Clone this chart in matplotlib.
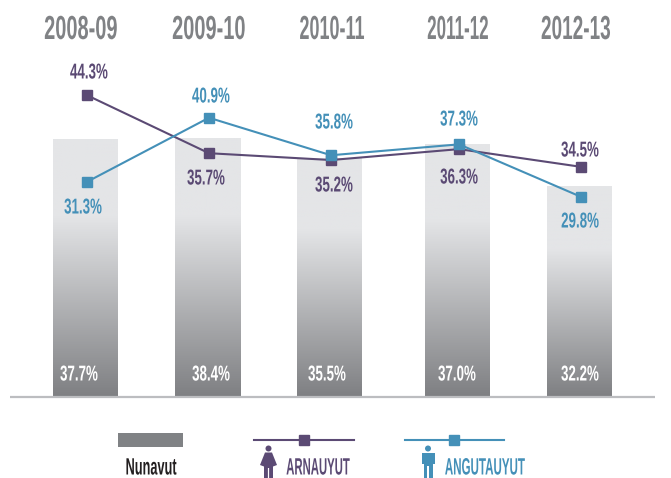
import matplotlib
matplotlib.use("Agg")
import matplotlib.pyplot as plt
import matplotlib.patheffects as pe
from matplotlib.colors import LinearSegmentedColormap
from matplotlib.patches import Circle, Polygon, Rectangle
from matplotlib.transforms import Affine2D
import numpy as np

years = ["2008-09", "2009-10", "2010-11", "2011-12", "2012-13"]

# printed labels
nunavut_labels = ["37.7%", "38.4%", "35.5%", "37.0%", "32.2%"]
arnauyut_labels = ["44.3%", "35.7%", "35.2%", "36.3%", "34.5%"]
angutauyut_labels = ["31.3%", "40.9%", "35.8%", "37.3%", "29.8%"]

# levels as drawn in the picture, these drift a bit from the printed labels
nunavut = [37.6, 37.8, 34.8, 36.9, 30.7]
arnauyut = [44.1, 35.6, 34.6, 36.2, 33.6]
angutauyut = [31.4, 40.8, 35.3, 36.9, 29.2]

# columns are not quite evenly spaced in the original
x_shift = [0.0, 0.0, 0.0, 0.05, 0.05]

GREY = "#808285"
PURPLE = "#5b4a74"
BLUE = "#4490b8"
FONT = "Liberation Sans"

W, H = 671, 478
BASE = 396
PX_PER_UNIT = 6.82
PX_PER_CAT = 122
X0 = 86


class Squeeze(pe.AbstractPathEffect):
    # no condensed font installed, so narrow the glyphs about the text centre
    def __init__(self, sx):
        super().__init__()
        self.sx = sx

    def draw_path(self, renderer, gc, tpath, affine, rgbFace=None):
        xc = tpath.get_extents().x0 / 2 + tpath.get_extents().x1 / 2
        squeeze = Affine2D().translate(-xc, 0).scale(self.sx, 1).translate(xc, 0)
        renderer.draw_path(gc, tpath, squeeze + affine, rgbFace)


def label(ax, x, y, s, color, size=15.5, sx=0.62):
    ax.text(x, y, s, color=color, family=FONT, weight="bold", size=size,
            ha="center", va="center", path_effects=[Squeeze(sx)])


def person(ax, cx, color, female):
    ax.add_patch(Circle((cx, 448.5), 3, color=color, lw=0))
    if female:
        pts = [(cx - 3.5, 452.5), (cx + 3.5, 452.5), (cx + 8.5, 465), (cx + 4.5, 466.5),
               (cx + 4.5, 478), (cx + 0.6, 478), (cx + 0.6, 468), (cx - 0.6, 468),
               (cx - 0.6, 478), (cx - 4.5, 478), (cx - 4.5, 466.5), (cx - 8.5, 465)]
    else:
        pts = [(cx - 6.5, 452.5), (cx + 6.5, 452.5), (cx + 6.5, 464), (cx + 4.5, 464),
               (cx + 4.5, 478), (cx + 0.6, 478), (cx + 0.6, 466), (cx - 0.6, 466),
               (cx - 0.6, 478), (cx - 4.5, 478), (cx - 4.5, 464), (cx - 6.5, 464)]
    ax.add_patch(Polygon(pts, closed=True, color=color, lw=0))


def main():
    fig = plt.figure(figsize=(W / 100, H / 100), dpi=100, facecolor="white")

    # data axes, percent on y and column index on x
    ax = fig.add_axes([0, 0, 1, 1])
    ax.axis("off")
    x = np.arange(len(years)) + np.array(x_shift)
    xlim = (-X0 / PX_PER_CAT, (W - X0) / PX_PER_CAT)
    ylim = (-(H - BASE) / PX_PER_UNIT, BASE / PX_PER_UNIT)

    cmap = LinearSegmentedColormap.from_list(
        "bar", [(0, "#e4e5e7"), (0.3, "#e4e5e7"), (1, "#7f8083")])
    grad = np.linspace(0, 1, 256).reshape(-1, 1)
    width = 65 / PX_PER_CAT
    for xi, v in zip(x, nunavut):
        ax.imshow(grad, cmap=cmap, aspect="auto", vmin=0, vmax=1, zorder=1,
                  extent=(xi - width / 2 - 0.005, xi + width / 2 - 0.005, 0, v))

    ax.plot(x + 0.008, arnauyut, color=PURPLE, lw=1.5, marker="s", ms=6.5, zorder=3)
    ax.plot(x + 0.008, angutauyut, color=BLUE, lw=1.5, marker="s", ms=6.5, zorder=4)
    ax.set_xlim(xlim)
    ax.set_ylim(ylim)

    # overlay in picture pixels for text and legend
    ov = fig.add_axes([0, 0, 1, 1])
    ov.axis("off")
    ov.patch.set_alpha(0)
    ov.set_xlim(0, W)
    ov.set_ylim(H, 0)

    ov.plot([10, 655], [397, 397], color="#bcbdc0", lw=1.6, solid_capstyle="butt")

    for px, s, sx in zip([81, 209, 332, 458, 576], years, [0.6, 0.6, 0.54, 0.51, 0.57]):
        label(ov, px, 30.5, s, GREY, size=24, sx=sx)
    for px, s in zip([79, 211, 327, 457, 580], nunavut_labels):
        label(ov, px, 375, s, "white")
    for px, py, s in zip([89, 206, 334, 459, 580], [73, 179, 186, 178, 151], arnauyut_labels):
        label(ov, px, py, s, PURPLE)
    for px, py, s in zip([83, 211, 334, 459, 580], [208, 97, 123, 120, 222], angutauyut_labels):
        label(ov, px, py, s, BLUE)

    # legend
    ov.add_patch(Rectangle((118, 433), 65, 14, color=GREY, lw=0))
    label(ov, 151, 468, "Nunavut", "#231f20", size=17, sx=0.54)

    ov.plot([254, 354], [439.5, 439.5], color=PURPLE, lw=1.5)
    ov.plot([304], [439.5], color=PURPLE, marker="s", ms=6.5)
    person(ov, 268.5, PURPLE, True)
    label(ov, 318, 468, "ARNAUYUT", PURPLE, size=17, sx=0.48)

    ov.plot([405, 504], [439.5, 439.5], color=BLUE, lw=1.5)
    ov.plot([454], [439.5], color=BLUE, marker="s", ms=6.5)
    person(ov, 428, BLUE, False)
    label(ov, 485, 468, "ANGUTAUYUT", BLUE, size=17, sx=0.49)

    fig.savefig("out.png", dpi=100)


if __name__ == "__main__":
    main()
